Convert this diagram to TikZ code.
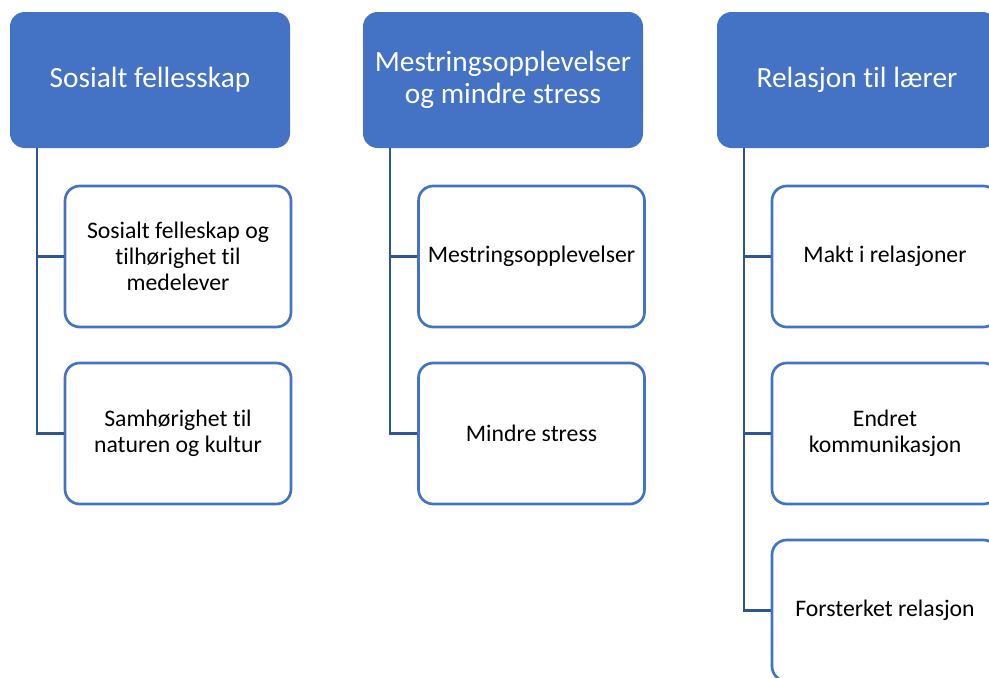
\documentclass[tikz,border=0pt]{standalone}
\usepackage{fontspec}
\setmainfont{Carlito}[Ligatures=NoCommon]
\usetikzlibrary{positioning}
\definecolor{headblue}{HTML}{4472C4}
\definecolor{linkblue}{HTML}{2F5597}
\tikzset{
  headnode/.style={fill=headblue, text=white, rounded corners=11pt, align=center,
    minimum width=210pt, minimum height=102pt, inner sep=2pt,
    font=\fontsize{22}{24.5}\selectfont},
  leafnode/.style={draw=headblue, fill=white, line width=2pt, rounded corners=11pt, align=center,
    minimum width=169.5pt, minimum height=105.75pt, inner sep=2pt,
    font=\fontsize{17.8}{19.5}\selectfont},
  link/.style={linkblue, line width=2.1pt}
}
\begin{document}
\begin{tikzpicture}[x=0.75pt,y=-0.75pt]
  \useasboundingbox (0,0) rectangle (989,678);
  \clip (0,0) rectangle (989,678);
  % headers
  \node[headnode] (sos) at (150,80) {Sosialt fellesskap};
  \node[headnode] (mes) at (503,80) {Mestringsopplevelser\\og mindre stress};
  \node[headnode] (rel) at (857,80) {Relasjon til lærer};
  % sub topics
  \node[leafnode] (sos1) at (178,256.5) {Sosialt felleskap og\\tilhørighet til\\medelever};
  \node[leafnode] (sos2) at (178,433.5) {Samhørighet til\\naturen og kultur};
  \node[leafnode] (mes1) at (531.5,256.5) {Mestringsopplevelser};
  \node[leafnode] (mes2) at (531.5,433.5) {Mindre stress};
  \node[leafnode] (rel1) at (885,256.5) {Makt i relasjoner};
  \node[leafnode] (rel2) at (885,433.5) {Endret\\kommunikasjon};
  \node[leafnode] (rel3) at (885,610.5) {Forsterket relasjon};
  % connectors
  \foreach \h/\c in {sos/sos1,sos/sos2,mes/mes1,mes/mes2,rel/rel1,rel/rel2,rel/rel3}{
    \draw[link] ([xshift=20.5pt]\h.south west) |- (\c.west);
  }
\end{tikzpicture}
\end{document}
